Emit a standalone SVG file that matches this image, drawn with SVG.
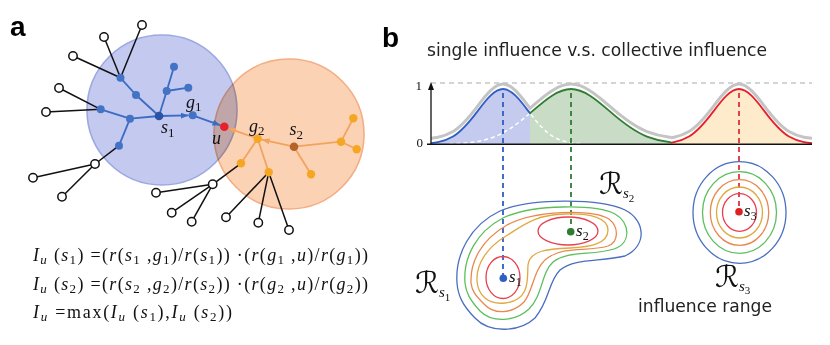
<svg xmlns="http://www.w3.org/2000/svg" width="830" height="345" viewBox="0 0 830 345">
<style>
.lbl{font-family:"Liberation Sans",Arial,sans-serif;font-weight:bold;font-size:28px;fill:#000}
.m{font-family:"Liberation Serif","Times New Roman",serif;fill:#111}
.it{font-style:italic}
.eb{stroke:#3b6cc4;stroke-width:1.8;fill:none}
.eo{stroke:#f2a35e;stroke-width:1.8;fill:none}
.ek{stroke:#111;stroke-width:1.5;fill:none}
.nb{fill:#4472c4}
.no{fill:#f5a623}
.nh{fill:#fff;stroke:#111;stroke-width:1.5}
.ttl{font-family:"DejaVu Sans",sans-serif;font-size:17px;fill:#222}
.ct{fill:none;stroke-width:1.3}
.vd{stroke-width:1.8;stroke-dasharray:5,4;fill:none}
.wd{stroke:#fff;stroke-width:1.5;stroke-dasharray:4,3;fill:none}
.gr{stroke:#c4c4c4;stroke-width:3;fill:none}
.cal{font-family:"DejaVu Serif","DejaVu Sans",serif;fill:#111}
</style>
<defs>
<marker id="ab" markerUnits="userSpaceOnUse" markerWidth="8" markerHeight="6" refX="8" refY="3" orient="auto"><path d="M0,0 L8,3 L0,6 z" fill="#3b6cc4"/></marker>
<marker id="ao" markerUnits="userSpaceOnUse" markerWidth="8" markerHeight="6" refX="8" refY="3" orient="auto"><path d="M0,0 L8,3 L0,6 z" fill="#f2a35e"/></marker>
<clipPath id="cL"><rect x="431" y="60" width="99" height="90"/></clipPath>
<clipPath id="cM"><rect x="530" y="60" width="141" height="90"/></clipPath>
<clipPath id="cR"><rect x="671" y="60" width="141" height="90"/></clipPath>
<path id="gB" d="M 423,143.67 C 433,143.25 443,142.52 453,136.56 C 461.33,131.6 469.67,121.76 478,110.64 C 486.33,99.52 494.67,89 503,89 C 511.33,89 519.67,99.52 528,110.64 C 536.33,121.76 544.67,131.6 553,136.56 C 563,142.52 573,143.25 583,143.67"/>
<path id="gG" d="M 449.4,143.67 C 464.6,143.25 479.8,142.52 495,136.56 C 507.67,131.6 520.33,121.76 533,110.64 C 545.67,99.52 558.33,89 571,89 C 583.67,89 596.33,99.52 609,110.64 C 621.67,121.76 634.33,131.6 647,136.56 C 662.2,142.52 677.4,143.25 692.6,143.67"/>
<path id="gR" d="M 659,143.67 C 669,143.25 679,142.52 689,136.56 C 697.33,131.6 705.67,121.76 714,110.64 C 722.33,99.52 730.67,89 739,89 C 747.33,89 755.67,99.52 764,110.64 C 772.33,121.76 780.67,131.6 789,136.56 C 799,142.52 809,143.25 819,143.67"/>
</defs>
<rect width="830" height="345" fill="#fff"/>

<!-- panel a -->
<text class="lbl" x="10" y="36">a</text>
<g id="range-s1"><circle cx="162" cy="110" r="75" fill="#c3c9ef" stroke="#9ca8e0" stroke-width="1.6" style="mix-blend-mode:multiply"/></g>
<g id="range-s2"><circle cx="289" cy="134" r="75" fill="#fcd2b4" stroke="#f3ae84" stroke-width="1.6" style="mix-blend-mode:multiply"/></g>

<g id="connectors">
<line class="ek" x1="120.5" y1="77.8" x2="142" y2="25"/>
<line class="ek" x1="120.5" y1="77.8" x2="104" y2="37"/>
<line class="ek" x1="120.5" y1="77.8" x2="73" y2="56"/>
<line class="ek" x1="100.7" y1="109.3" x2="59" y2="88"/>
<line class="ek" x1="100.7" y1="109.3" x2="46" y2="112"/>
<line class="ek" x1="119" y1="145.7" x2="95" y2="164"/>
<line class="ek" x1="95" y1="164" x2="33" y2="177.7"/>
<line class="ek" x1="95" y1="164" x2="62" y2="196.7"/>
<line class="ek" x1="241" y1="163.3" x2="212.7" y2="184.3"/>
<line class="ek" x1="212.7" y1="184.3" x2="156" y2="192.7"/>
<line class="ek" x1="212.7" y1="184.3" x2="171.7" y2="212.7"/>
<line class="ek" x1="212.7" y1="184.3" x2="191.7" y2="221.7"/>
<line class="ek" x1="268.7" y1="172.3" x2="226" y2="217.3"/>
<line class="ek" x1="268.7" y1="172.3" x2="258.3" y2="222.7"/>
<line class="ek" x1="268.7" y1="172.3" x2="289" y2="230"/>
<line class="eb" x1="120.5" y1="77.8" x2="136" y2="95"/>
<line class="eb" x1="136" y1="95" x2="159" y2="116"/>
<line class="eb" x1="100.7" y1="109.3" x2="130" y2="118.7"/>
<line class="eb" x1="130" y1="118.7" x2="159" y2="116"/>
<line class="eb" x1="130" y1="118.7" x2="119" y2="145.7"/>
<line class="eb" x1="159" y1="116" x2="166.7" y2="91"/>
<line class="eb" x1="166.7" y1="91" x2="174" y2="66.7"/>
<line class="eb" x1="166.7" y1="91" x2="188.3" y2="87.7"/>
<line class="eb" x1="159" y1="116" x2="188.7" y2="115.4" marker-end="url(#ab)"/>
<line class="eb" x1="192.7" y1="115.3" x2="220.5" y2="125.3" marker-end="url(#ab)"/>
<line class="eo" x1="294" y1="146.7" x2="311" y2="174.3"/>
<line class="eo" x1="294" y1="146.7" x2="341" y2="141.7"/>
<line class="eo" x1="341" y1="141.7" x2="353.3" y2="118.3"/>
<line class="eo" x1="341" y1="141.7" x2="356.7" y2="149.3"/>
<line class="eo" x1="257.7" y1="138.7" x2="241" y2="163.3"/>
<line class="eo" x1="257.7" y1="138.7" x2="268.7" y2="172.3"/>
<line class="eo" x1="294" y1="146.7" x2="261.6" y2="139.6" marker-end="url(#ao)"/>
<line class="eo" x1="257.7" y1="138.7" x2="228.1" y2="128.1" marker-end="url(#ao)"/>
</g>

<g id="leaf1"><circle class="nh" cx="142" cy="25" r="4.2"/></g>
<g id="leaf2"><circle class="nh" cx="104" cy="37" r="4.2"/></g>
<g id="leaf3"><circle class="nh" cx="73" cy="56" r="4.2"/></g>
<g id="leaf4"><circle class="nh" cx="59" cy="88" r="4.2"/></g>
<g id="leaf5"><circle class="nh" cx="46" cy="112" r="4.2"/></g>
<g id="leaf6"><circle class="nh" cx="95" cy="164" r="4.2"/></g>
<g id="leaf7"><circle class="nh" cx="33" cy="177.7" r="4.2"/></g>
<g id="leaf8"><circle class="nh" cx="62" cy="196.7" r="4.2"/></g>
<g id="leaf9"><circle class="nh" cx="212.7" cy="184.3" r="4.2"/></g>
<g id="leaf10"><circle class="nh" cx="156" cy="192.7" r="4.2"/></g>
<g id="leaf11"><circle class="nh" cx="171.7" cy="212.7" r="4.2"/></g>
<g id="leaf12"><circle class="nh" cx="191.7" cy="221.7" r="4.2"/></g>
<g id="leaf13"><circle class="nh" cx="226" cy="217.3" r="4.2"/></g>
<g id="leaf14"><circle class="nh" cx="258.3" cy="222.7" r="4.2"/></g>
<g id="leaf15"><circle class="nh" cx="289" cy="230" r="4.2"/></g>

<g id="b1"><circle class="nb" cx="120.5" cy="77.8" r="4"/></g>
<g id="b2"><circle class="nb" cx="136" cy="95" r="4"/></g>
<g id="b3"><circle class="nb" cx="100.7" cy="109.3" r="4"/></g>
<g id="b4"><circle class="nb" cx="130" cy="118.7" r="4"/></g>
<g id="b5"><circle class="nb" cx="119" cy="145.7" r="4"/></g>
<g id="b6"><circle class="nb" cx="166.7" cy="91" r="4"/></g>
<g id="b7"><circle class="nb" cx="174" cy="66.7" r="4"/></g>
<g id="b8"><circle class="nb" cx="188.3" cy="87.7" r="4"/></g>
<g id="s1"><circle cx="159" cy="116" r="4.3" fill="#2a52a6"/></g>
<g id="g1"><circle class="nb" cx="192.7" cy="115.3" r="4"/></g>
<g id="u"><circle cx="224.3" cy="126.7" r="4.3" fill="#e8202c"/></g>
<g id="g2"><circle class="no" cx="257.7" cy="138.7" r="4.2"/></g>
<g id="s2"><circle cx="294" cy="146.7" r="4.3" fill="#b5632a"/></g>
<g id="o1"><circle class="no" cx="241" cy="163.3" r="4.2"/></g>
<g id="o2"><circle class="no" cx="268.7" cy="172.3" r="4.2"/></g>
<g id="o3"><circle class="no" cx="311" cy="174.3" r="4.2"/></g>
<g id="o4"><circle class="no" cx="341" cy="141.7" r="4.2"/></g>
<g id="o5"><circle class="no" cx="353.3" cy="118.3" r="4.2"/></g>
<g id="o6"><circle class="no" cx="356.7" cy="149.3" r="4.2"/></g>

<g id="labels-a" class="m">
<text x="186" y="108" font-size="18"><tspan class="it">g</tspan><tspan font-size="13" dy="3">1</tspan></text>
<text x="161" y="132.5" font-size="18"><tspan class="it">s</tspan><tspan font-size="13" dy="4">1</tspan></text>
<text x="212" y="143.5" font-size="18" class="it">u</text>
<text x="249" y="131.5" font-size="18"><tspan class="it">g</tspan><tspan font-size="13" dy="3">2</tspan></text>
<text x="289.5" y="134.5" font-size="18"><tspan class="it">s</tspan><tspan font-size="13" dy="4">2</tspan></text>
</g>

<g id="formulas" class="m" font-size="18">
<text x="33" y="261" textLength="335" lengthAdjust="spacing"><tspan class="it">I</tspan><tspan class="it" font-size="13" dy="3">u</tspan><tspan dy="-3"> (</tspan><tspan class="it">s</tspan><tspan font-size="13" dy="3">1</tspan><tspan dy="-3">) =(</tspan><tspan class="it">r</tspan>(<tspan class="it">s</tspan><tspan font-size="13" dy="3">1</tspan><tspan dy="-3"> ,</tspan><tspan class="it">g</tspan><tspan font-size="13" dy="3">1</tspan><tspan dy="-3">)/</tspan><tspan class="it">r</tspan>(<tspan class="it">s</tspan><tspan font-size="13" dy="3">1</tspan><tspan dy="-3">)) ·(</tspan><tspan class="it">r</tspan>(<tspan class="it">g</tspan><tspan font-size="13" dy="3">1</tspan><tspan dy="-3"> ,</tspan><tspan class="it">u</tspan>)/<tspan class="it">r</tspan>(<tspan class="it">g</tspan><tspan font-size="13" dy="3">1</tspan><tspan dy="-3">))</tspan></text>
<text x="33" y="289.5" textLength="335" lengthAdjust="spacing"><tspan class="it">I</tspan><tspan class="it" font-size="13" dy="3">u</tspan><tspan dy="-3"> (</tspan><tspan class="it">s</tspan><tspan font-size="13" dy="3">2</tspan><tspan dy="-3">) =(</tspan><tspan class="it">r</tspan>(<tspan class="it">s</tspan><tspan font-size="13" dy="3">2</tspan><tspan dy="-3"> ,</tspan><tspan class="it">g</tspan><tspan font-size="13" dy="3">2</tspan><tspan dy="-3">)/</tspan><tspan class="it">r</tspan>(<tspan class="it">s</tspan><tspan font-size="13" dy="3">2</tspan><tspan dy="-3">)) ·(</tspan><tspan class="it">r</tspan>(<tspan class="it">g</tspan><tspan font-size="13" dy="3">2</tspan><tspan dy="-3"> ,</tspan><tspan class="it">u</tspan>)/<tspan class="it">r</tspan>(<tspan class="it">g</tspan><tspan font-size="13" dy="3">2</tspan><tspan dy="-3">))</tspan></text>
<text x="33" y="318" textLength="199" lengthAdjust="spacing"><tspan class="it">I</tspan><tspan class="it" font-size="13" dy="3">u</tspan><tspan dy="-3"> =max(</tspan><tspan class="it">I</tspan><tspan class="it" font-size="13" dy="3">u</tspan><tspan dy="-3"> (</tspan><tspan class="it">s</tspan><tspan font-size="13" dy="3">1</tspan><tspan dy="-3">),</tspan><tspan class="it">I</tspan><tspan class="it" font-size="13" dy="3">u</tspan><tspan dy="-3"> (</tspan><tspan class="it">s</tspan><tspan font-size="13" dy="3">2</tspan><tspan dy="-3">))</tspan></text>
</g>

<!-- panel b -->
<text class="lbl" x="382" y="47">b</text>
<text class="ttl" x="427" y="56" textLength="340" lengthAdjust="spacingAndGlyphs">single influence v.s. collective influence</text>

<g id="plot">
<line x1="431" y1="83" x2="812" y2="83" stroke="#aaa" stroke-width="1.2" stroke-dasharray="5,4"/>
<g clip-path="url(#cL)"><use href="#gB" fill="#c5cbee" stroke="none"/><rect x="423" y="143.6" width="110" height="1" fill="#c5cbee"/></g>
<g clip-path="url(#cM)"><use href="#gG" fill="#c9dcc6" stroke="none"/></g>
<g clip-path="url(#cR)"><use href="#gR" fill="#fdebcb" stroke="none"/></g>
<g clip-path="url(#cL)"><use href="#gG" class="wd"/></g>
<g clip-path="url(#cM)"><use href="#gB" class="wd"/></g>
<g clip-path="url(#cL)"><use href="#gB" fill="none" stroke="#2f5ec4" stroke-width="1.8"/></g>
<g clip-path="url(#cM)"><use href="#gG" fill="none" stroke="#2e7d32" stroke-width="1.8"/></g>
<g clip-path="url(#cR)"><use href="#gR" fill="none" stroke="#e8202c" stroke-width="1.8"/></g>
<g clip-path="url(#cL)"><use href="#gB" class="gr" transform="translate(0,-5)"/></g>
<g clip-path="url(#cM)"><use href="#gG" class="gr" transform="translate(0,-5)"/></g>
<g clip-path="url(#cR)"><use href="#gR" class="gr" transform="translate(0,-5)"/></g>
<line x1="427" y1="144.3" x2="812" y2="144.3" stroke="#111" stroke-width="1.6"/>
<line x1="431" y1="144" x2="431" y2="88" stroke="#111" stroke-width="1.3"/>
<path d="M431,82 L434,90 L428,90 z" fill="#111"/>
<text class="m" x="422" y="89.5" font-size="13" text-anchor="end">1</text>
<text class="m" x="423" y="146.5" font-size="13" text-anchor="end">0</text>
</g>

<g id="dashes">
<line class="vd" stroke="#2f5ec4" x1="503" y1="93" x2="503" y2="276"/>
<line class="vd" stroke="#2e7d32" x1="571" y1="93" x2="571" y2="229"/>
<line class="vd" stroke="#e0303c" x1="739" y1="93" x2="739" y2="209"/>
</g>

<g id="contours-s1s2">
<path class="ct" stroke="#4a6fbf" d="M 457,283 C 455,255 470,225 500,211 C 530,198 600,198 625,210 C 645,220 648,245 625,256 C 600,262 575,258 560,270 C 548,282 550,300 535,318 C 520,332 490,334 475,318 C 462,305 458,295 457,283 Z"/>
<path class="ct" stroke="#5cbf5c" d="M 465,283 C 463,258 476,232 503,218 C 532,204 596,204 615,214 C 630,222 632,243 614,249 C 592,256 568,250 553,262 C 541,273 543,295 529,309 C 515,322 492,323 480,311 C 470,300 466,293 465,283 Z"/>
<path class="ct" stroke="#e8884c" d="M 471,283 C 470,262 481,240 507,225 C 535,210 592,209 609,219 C 619,227 619,242 608,246 C 588,252 566,246 549,257 C 533,267 534,290 524,302 C 512,314 494,315 484,304 C 475,295 472,291 471,283 Z"/>
<path class="ct" stroke="#e0a840" d="M 477,281 C 476,263 488,247 506,236 C 525,224 535,215 565,214 C 590,213 608,218 608,230 C 608,244 590,247 570,248 C 548,249 530,250 528,265 C 527,278 531,300 505,303 C 488,305 478,295 477,281 Z"/>
<ellipse class="ct" stroke="#e84050" cx="568" cy="231" rx="30" ry="14"/>
<ellipse class="ct" stroke="#e84050" cx="503" cy="277.5" rx="17" ry="21"/>
</g>
<g id="contours-s3">
<ellipse class="ct" stroke="#4a6fbf" cx="739.5" cy="212.5" rx="46.5" ry="50.8"/>
<ellipse class="ct" stroke="#5cbf5c" cx="739.5" cy="212.5" rx="37" ry="40.8"/>
<ellipse class="ct" stroke="#e8884c" cx="739.5" cy="212.5" rx="29.2" ry="32.8"/>
<ellipse class="ct" stroke="#e0a840" cx="739.5" cy="212.5" rx="23" ry="25.5"/>
<ellipse class="ct" stroke="#e84050" cx="739.5" cy="212.5" rx="17" ry="18.8"/>
</g>

<g id="seed-s1"><circle cx="503.3" cy="278.3" r="3.8" fill="#2f5ec4"/>
<text class="m" x="509" y="281.5" font-size="17"><tspan class="it">s</tspan><tspan font-size="12" dy="4">1</tspan></text></g>
<g id="seed-s2"><circle cx="570.7" cy="231.7" r="3.8" fill="#2e7d32"/>
<text class="m" x="576" y="235.5" font-size="17"><tspan class="it">s</tspan><tspan font-size="12" dy="4">2</tspan></text></g>
<g id="seed-s3"><circle cx="739" cy="211.7" r="3.8" fill="#e02020"/>
<text class="m" x="744" y="215.5" font-size="17"><tspan class="it">s</tspan><tspan font-size="12" dy="4">3</tspan></text></g>

<g id="range-labels">
<text class="cal" x="599" y="194" font-size="30">ℛ<tspan class="m it" font-size="15" dy="4">s</tspan><tspan class="m" font-size="11" dy="4">2</tspan></text>
<text class="cal" x="415" y="293" font-size="30">ℛ<tspan class="m it" font-size="15" dy="4">s</tspan><tspan class="m" font-size="11" dy="4">1</tspan></text>
<text class="cal" x="715" y="287" font-size="30">ℛ<tspan class="m it" font-size="15" dy="4">s</tspan><tspan class="m" font-size="11" dy="3">3</tspan></text>
<text class="ttl" x="638" y="312" textLength="134" lengthAdjust="spacingAndGlyphs">influence range</text>
</g>
</svg>
